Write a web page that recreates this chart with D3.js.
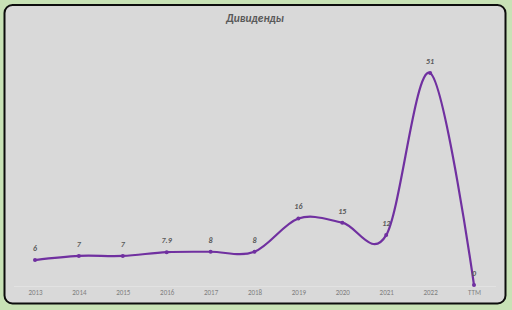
<!DOCTYPE html>
<html>
<head>
<meta charset="utf-8">
<script src="https://cdn.jsdelivr.net/npm/d3@7"></script>
<style>
  html, body { margin: 0; padding: 0; background: #c8e2b6; }
  svg { display: block; font-family: Calibri, Carlito, "Liberation Sans", sans-serif; }
</style>
</head>
<body>
<svg id="chart"></svg>
<script>
// chart data
const years = ['2013', '2014', '2015', '2016', '2017', '2018', '2019', '2020', '2021', '2022', 'TTM']
const dividends = [6, 7, 7, 7.9, 8, 8, 16, 15, 12, 51, 0]
const title = 'Дивиденды'

const width = 512
const height = 310
const margin = { top: 73, right: 38, bottom: 25, left: 35 }

const svg = d3.select('#chart')
  .attr('width', width)
  .attr('height', height)

// chart frame
svg.append('rect')
  .attr('x', 4.5)
  .attr('y', 5)
  .attr('width', 501)
  .attr('height', 298.5)
  .attr('rx', 8)
  .attr('fill', '#d9d9d9')
  .attr('stroke', '#0d0d0d')
  .attr('stroke-width', 2)

svg.append('text')
  .attr('x', 255)
  .attr('y', 22)
  .attr('text-anchor', 'middle')
  .attr('font-size', 11.5)
  .attr('font-weight', 'bold')
  .attr('font-style', 'italic')
  .attr('fill', '#595959')
  .text(title)

const x = d3.scalePoint()
  .domain(years)
  .range([margin.left, width - margin.right])

const y = d3.scaleLinear()
  .domain([0, 51])
  .range([height - margin.bottom, margin.top])

// baseline
svg.append('line')
  .attr('x1', 14)
  .attr('x2', 496)
  .attr('y1', 286.5)
  .attr('y2', 286.5)
  .attr('stroke', '#e2e2e2')
  .attr('stroke-width', 1)

const xAxis = d3.axisBottom(x).tickSize(0).tickPadding(0)

const gx = svg.append('g')
  .attr('transform', 'translate(0, 290)')
  .call(xAxis)
gx.select('.domain').remove()
gx.selectAll('text')
  .attr('font-size', 7)
  .attr('fill', '#7f7f7f')
  .attr('font-family', 'Calibri, Carlito, "Liberation Sans", sans-serif')

const data = years.map((d, i) => ({ year: d, value: dividends[i] }))

const line = d3.line()
  .x(d => x(d.year))
  .y(d => y(d.value))
  .curve(d3.curveCardinal.tension(0))

svg.append('path')
  .datum(data)
  .attr('d', line)
  .attr('fill', 'none')
  .attr('stroke', '#7030a0')
  .attr('stroke-width', 2.2)

svg.selectAll('.dot')
  .data(data)
  .enter().append('circle')
  .attr('class', 'dot')
  .attr('cx', d => x(d.year))
  .attr('cy', d => y(d.value))
  .attr('r', 2)
  .attr('fill', '#7030a0')

svg.selectAll('.lbl')
  .data(data)
  .enter().append('text')
  .attr('class', 'lbl')
  .attr('x', d => x(d.year))
  .attr('y', d => y(d.value) - 9)
  .attr('text-anchor', 'middle')
  .attr('font-size', 8)
  .attr('font-weight', 'bold')
  .attr('font-style', 'italic')
  .attr('fill', '#595959')
  .text(d => d.value)
</script>
</body>
</html>
